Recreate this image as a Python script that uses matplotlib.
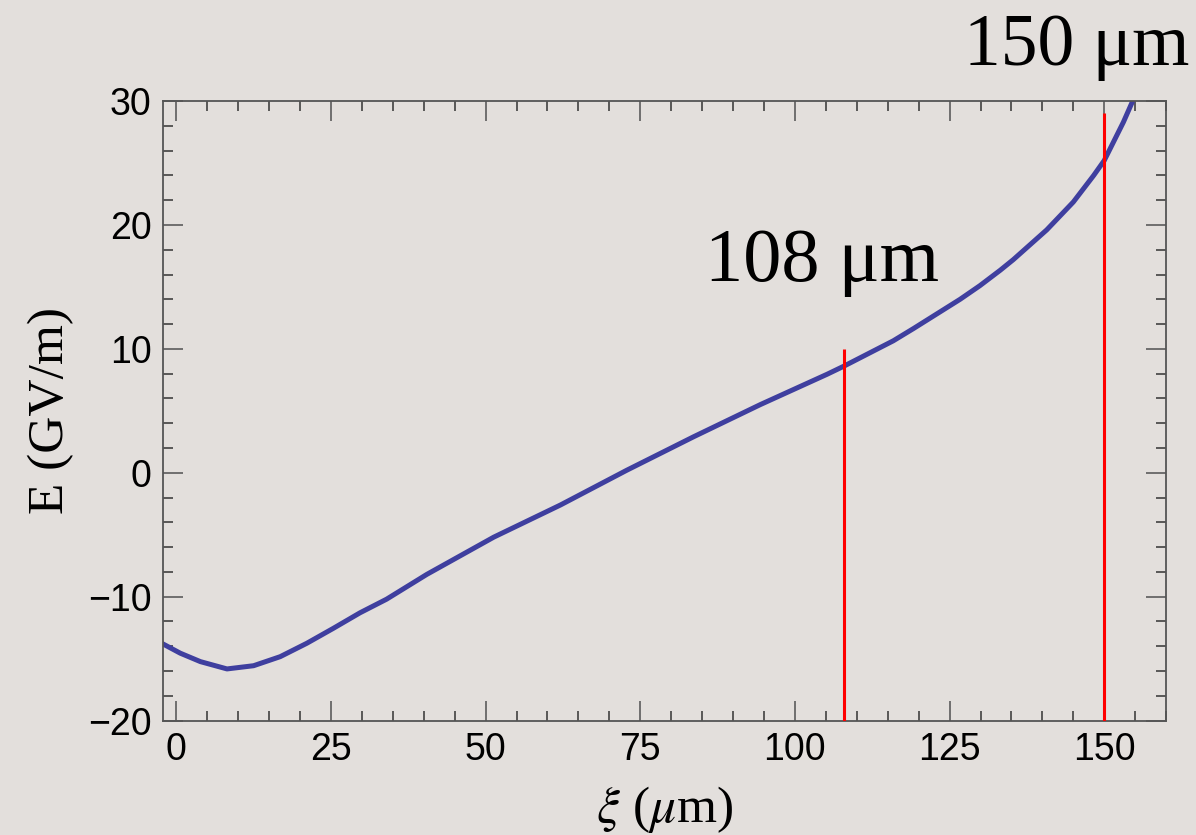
import matplotlib
matplotlib.use("Agg")
import matplotlib.pyplot as plt
from matplotlib.ticker import MultipleLocator

# Field along the bunch
xi_um = [-2.2, 0.65, 3.9, 8.2, 12.5, 16.8, 21.1, 25.4, 29.7, 34.0, 40.5,
         51.3, 62.1, 72.8, 83.6, 94.4, 105.2, 107.9, 115.9, 119.2, 126.7,
         129.9, 133.2, 135.3, 140.7, 145.0, 148.3, 150.0, 151.5, 153.1, 154.6]
field_gv_m = [-13.8, -14.56, -15.24, -15.83, -15.57, -14.84, -13.76, -12.55,
              -11.3, -10.2, -8.2, -5.2, -2.6, 0.2, 2.9, 5.5, 7.95, 8.6, 10.65,
              11.65, 14.0, 15.1, 16.35, 17.2, 19.6, 21.85, 24.0, 25.2, 26.7,
              28.3, 30.0]

# Vertical markers: position and top of the line
marker_xi = [108, 150]
marker_top = [10, 29]
marker_labels = ["108 μm", "150 μm"]
label_pos = [(85.5, 15.5), (127.3, 32.9)]
label_sizes = [55, 53]

background = "#e3dfdc"
plt.rcParams["mathtext.fontset"] = "stix"

figure = plt.figure(figsize=(11.96, 8.35), dpi=100, facecolor=background)
axis = figure.add_axes([0.136, 0.137, 0.839, 0.742], facecolor=background)

axis.plot(xi_um, field_gv_m, color="#3f3f9f", linewidth=3.6,
          solid_joinstyle="round", zorder=2)

for x_pos, top in zip(marker_xi, marker_top):
    axis.vlines(x_pos, -20, top, color="#ff0000", linewidth=2.2, zorder=3)

for text, (x_pos, y_pos), size in zip(marker_labels, label_pos, label_sizes):
    axis.text(x_pos, y_pos, text, fontsize=size, family="Liberation Serif",
              ha="left", va="baseline", clip_on=False)

axis.set_xlim(-2.2, 160)
axis.set_ylim(-20, 30)
axis.xaxis.set_major_locator(MultipleLocator(25))
axis.xaxis.set_minor_locator(MultipleLocator(5))
axis.yaxis.set_major_locator(MultipleLocator(10))
axis.yaxis.set_minor_locator(MultipleLocator(2))

axis.tick_params(which="both", direction="in", top=True, right=True)
axis.tick_params(which="major", length=14.4, width=1.3, color="#666666",
                 labelsize=27, pad=8)
axis.tick_params(which="minor", length=7.2, width=1.1, color="#333333")
for label in axis.get_xticklabels() + axis.get_yticklabels():
    label.set_family("Liberation Sans")

for spine in axis.spines.values():
    spine.set_color("#555555")
    spine.set_linewidth(1.3)

axis.set_xlabel(r"$\xi$ ($\mu$m)", fontsize=37, family="Liberation Serif",
                labelpad=12)
axis.set_ylabel("E (GV/m)", fontsize=37, family="Liberation Serif",
                labelpad=10)

figure.savefig("out.png", dpi=100, facecolor=background)
